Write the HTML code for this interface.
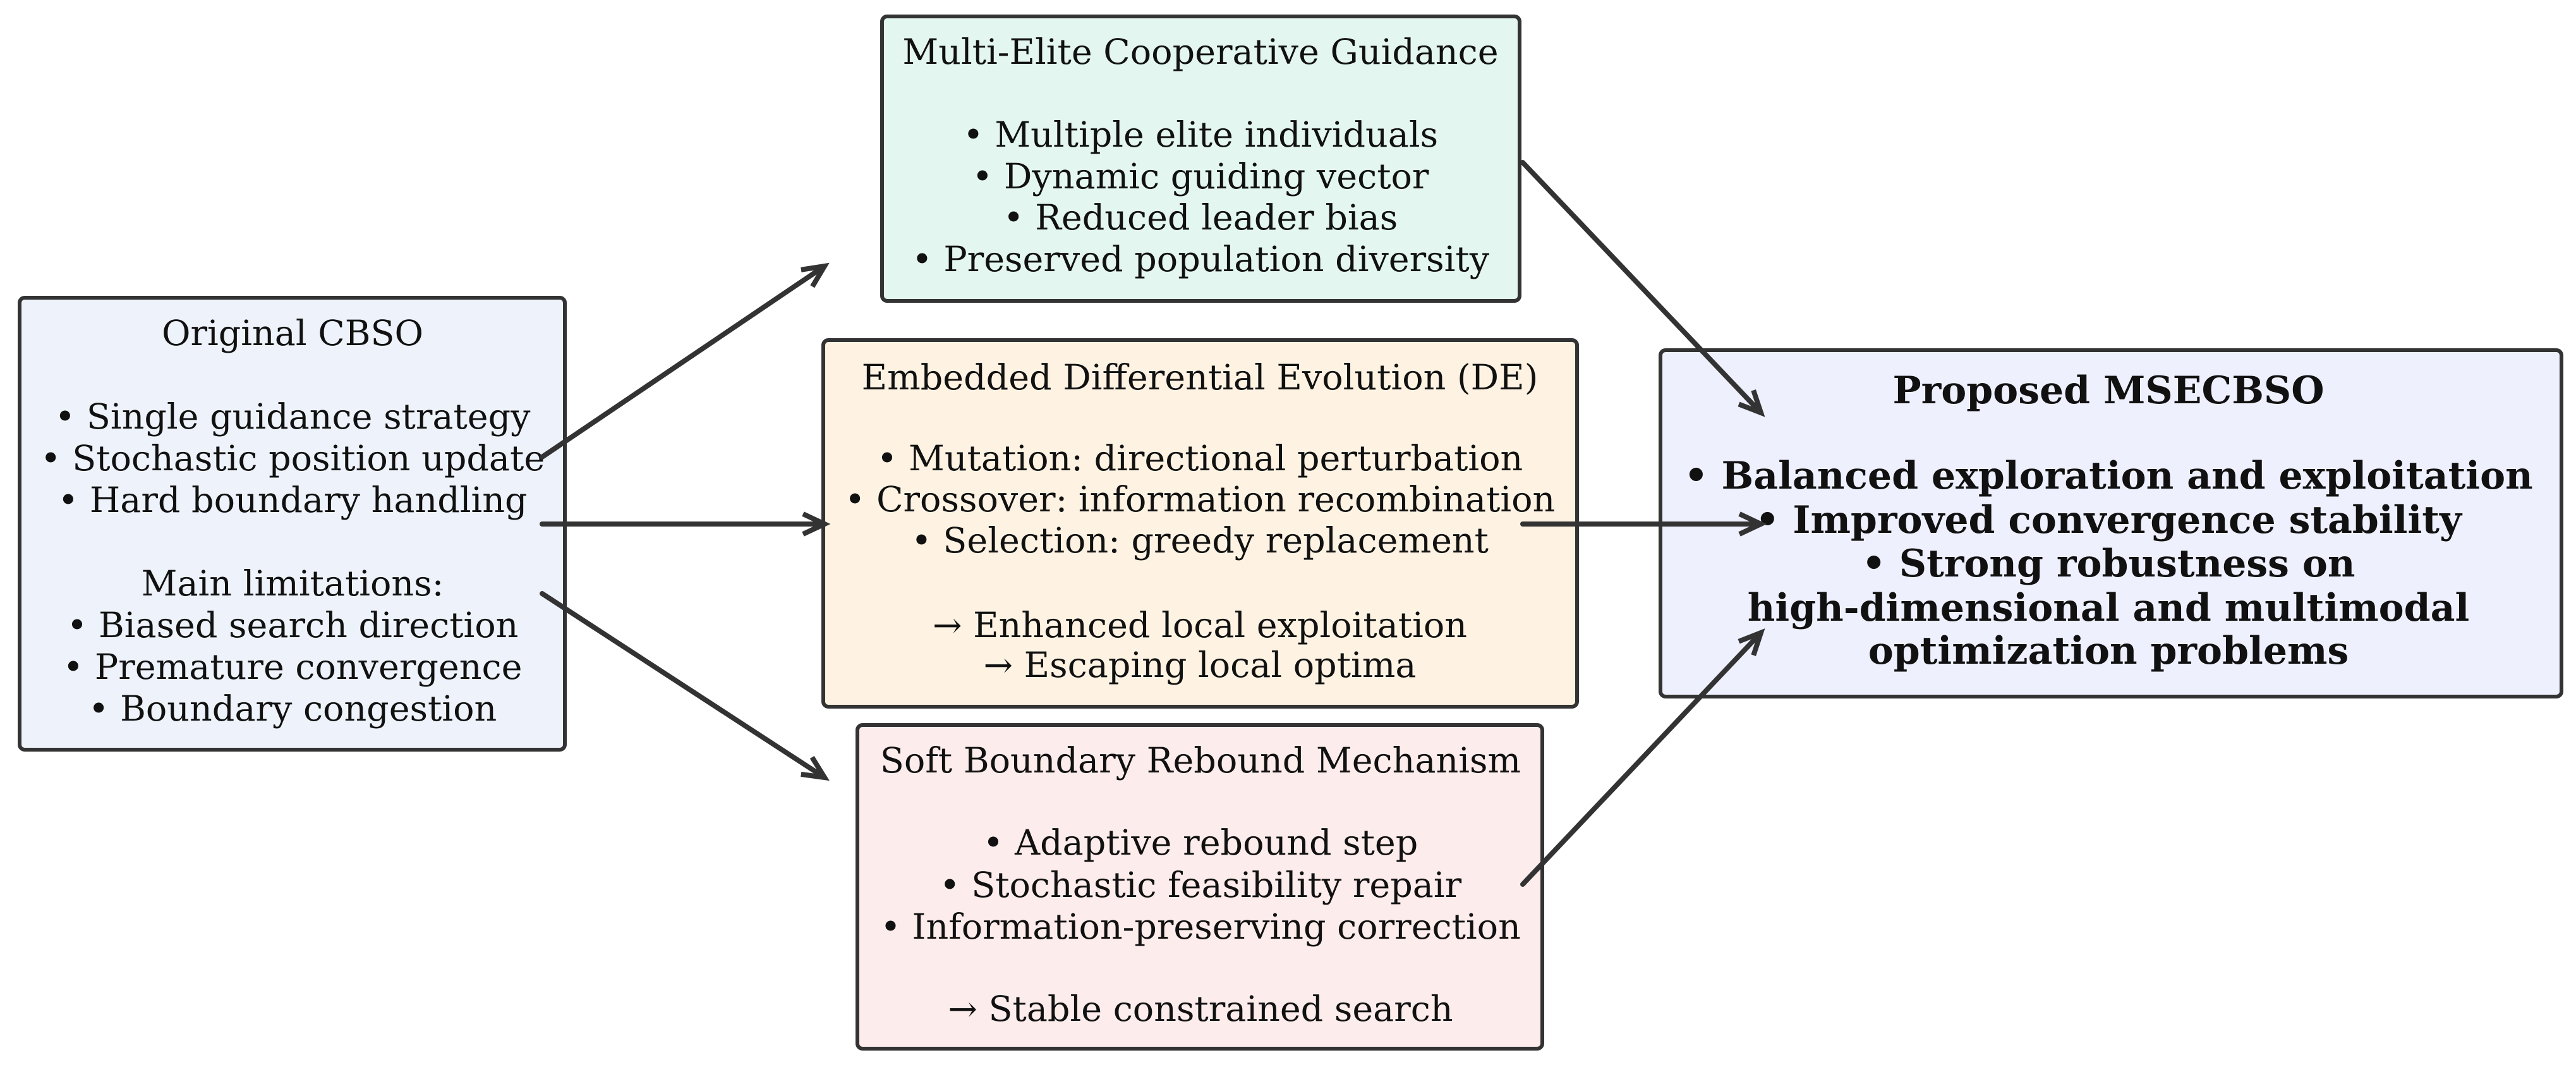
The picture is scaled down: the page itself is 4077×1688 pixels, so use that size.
<!DOCTYPE html>
<html><head><meta charset="utf-8"><style>
html,body{margin:0;padding:0;background:#fff;}
svg{display:block;}
text{font-family:"DejaVu Serif","Liberation Serif",serif;font-size:55.5px;fill:#111;text-anchor:middle;}
.b{font-weight:bold;font-size:60px;}
</style></head><body>
<svg width="4077" height="1688" viewBox="0 0 4077 1688" xmlns="http://www.w3.org/2000/svg">
<defs>
<marker id="ah" markerWidth="10" markerHeight="10" refX="8" refY="5" orient="auto" markerUnits="userSpaceOnUse" viewBox="0 0 10 10" style="overflow:visible">
<path d="M-26,-11 L8,5 L-26,21" fill="none" stroke="#333" stroke-width="8"/>
</marker>
</defs>
<g stroke="#333" stroke-width="6">
<rect x="31" y="471" width="863" height="715" rx="8" fill="#eef3fb"/>
<rect x="1396" y="26" width="1009" height="450" rx="8" fill="#e3f6ef"/>
<rect x="1303" y="538" width="1193" height="580" rx="8" fill="#fef3e3"/>
<rect x="1357" y="1147" width="1084" height="512" rx="8" fill="#fdecec"/>
<rect x="2628" y="554" width="1426" height="548" rx="8" fill="#eef0fd"/>
</g>
<text x="463" y="546">Original CBSO</text>
<text x="463" y="678">• Single guidance strategy</text>
<text x="463" y="744">• Stochastic position update</text>
<text x="463" y="810">• Hard boundary handling</text>
<text x="463" y="942">Main limitations:</text>
<text x="463" y="1008">• Biased search direction</text>
<text x="463" y="1074">• Premature convergence</text>
<text x="463" y="1140">• Boundary congestion</text>

<text x="1900" y="101">Multi-Elite Cooperative Guidance</text>
<text x="1900" y="232">• Multiple elite individuals</text>
<text x="1900" y="298">• Dynamic guiding vector</text>
<text x="1900" y="363">• Reduced leader bias</text>
<text x="1900" y="429">• Preserved population diversity</text>

<text x="1899" y="616">Embedded Differential Evolution (DE)</text>
<text x="1899" y="744">• Mutation: directional perturbation</text>
<text x="1899" y="809">• Crossover: information recombination</text>
<text x="1899" y="874">• Selection: greedy replacement</text>
<text x="1899" y="1008">→ Enhanced local exploitation</text>
<text x="1899" y="1071">→ Escaping local optima</text>

<text x="1900" y="1222">Soft Boundary Rebound Mechanism</text>
<text x="1900" y="1352">• Adaptive rebound step</text>
<text x="1900" y="1419">• Stochastic feasibility repair</text>
<text x="1900" y="1485">• Information-preserving correction</text>
<text x="1900" y="1615">→ Stable constrained search</text>

<text class="b" x="3337" y="638">Proposed MSECBSO</text>
<text class="b" x="3337" y="773">• Balanced exploration and exploitation</text>
<text class="b" x="3337" y="843">• Improved convergence stability</text>
<text class="b" x="3337" y="912">• Strong robustness on</text>
<text class="b" x="3337" y="982">high-dimensional and multimodal</text>
<text class="b" x="3337" y="1050">optimization problems</text>

<g stroke="#333" stroke-width="8" fill="none" stroke-linecap="round">
<line x1="858" y1="723" x2="1305" y2="421" marker-end="url(#ah)"/>
<line x1="858" y1="829" x2="1305" y2="829" marker-end="url(#ah)"/>
<line x1="858" y1="939" x2="1305" y2="1230" marker-end="url(#ah)"/>
<line x1="2410" y1="257" x2="2787" y2="653" marker-end="url(#ah)"/>
<line x1="2410" y1="829" x2="2787" y2="829" marker-end="url(#ah)"/>
<line x1="2410" y1="1399" x2="2787" y2="1001" marker-end="url(#ah)"/>
</g>
</svg>
</body></html>
